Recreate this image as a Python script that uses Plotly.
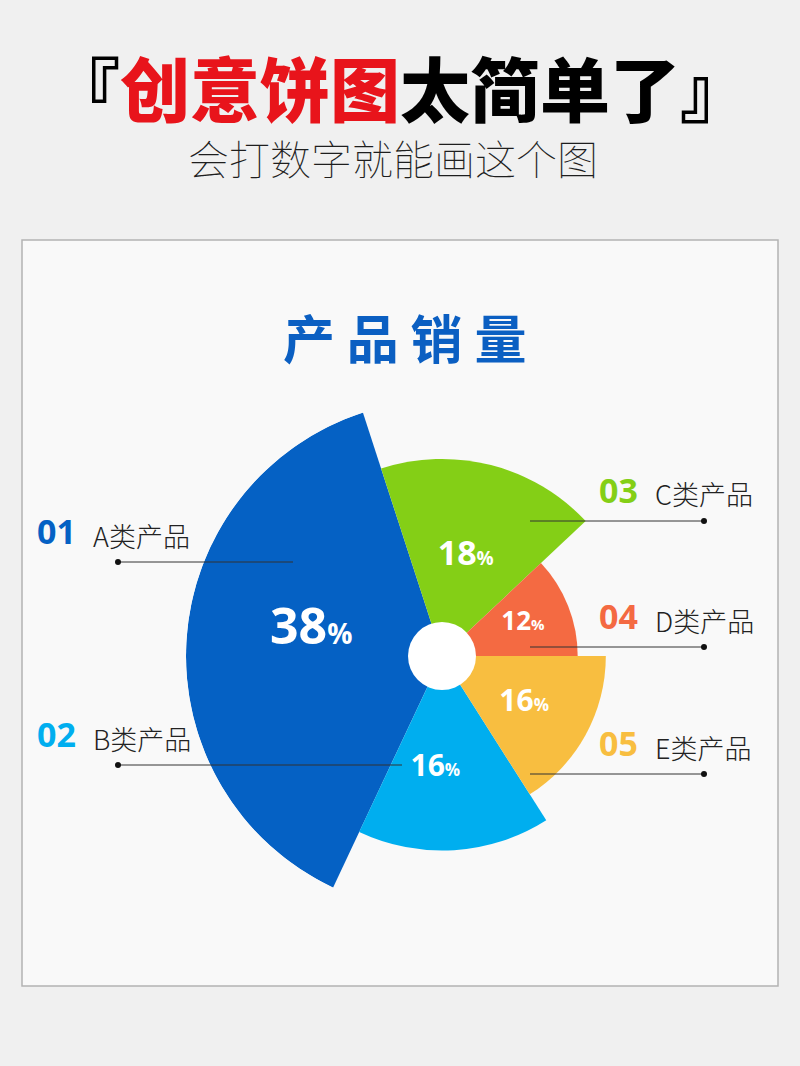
import plotly.graph_objects as go

# chart data
products = ["A类产品", "B类产品", "C类产品", "D类产品", "E类产品"]
codes = ["01", "02", "03", "04", "05"]
share = [38, 16, 18, 12, 16]          # percent, sets the angle of each slice
radius = [100, 76, 77, 53, 64]        # relative length of each slice
colors = ["#0561c4", "#00aeef", "#84cf16", "#f46a42", "#f8be40"]

# slices go clockwise starting with C
draw_order = [2, 3, 4, 1, 0]

W, H = 800, 1066


def px(x, y):
    # page pixels -> paper coords
    return x / W, 1 - y / H


def slice_angles():
    widths = [s * 3.6 for s in share]
    mids = [0] * len(share)
    start = 0
    for i in draw_order:
        mids[i] = start + widths[i] / 2
        start += widths[i]
    return mids, widths


def create_plot():
    fig = go.Figure()
    mids, widths = slice_angles()

    fig.add_trace(go.Barpolar(
        r=radius,
        theta=mids,
        width=widths,
        marker=dict(color=colors, line=dict(width=0)),
        hoverinfo="none",
    ))

    # percent labels inside the slices
    label_r = [52, 44, 40, 34, 37]
    label_nudge = [7, 7, -1, 0, 1]
    num_size = [50, 30, 34, 26, 30]
    texts = []
    for s, n in zip(share, num_size):
        texts.append(f"{s}<span style='font-size:{int(n * 0.58)}px'>%</span>")
    fig.add_trace(go.Scatterpolar(
        r=label_r,
        theta=[m + d for m, d in zip(mids, label_nudge)],
        mode="text",
        text=texts,
        textposition="middle center",
        textfont=dict(family="Open Sans", size=num_size, color="white", weight="bold"),
        hoverinfo="none",
    ))

    cx, cy, R = 442, 656, 256
    x0, y1 = px(cx - R, cy - R)
    x1, y0 = px(cx + R, cy + R)

    fig.update_layout(
        width=W, height=H,
        margin=dict(l=0, r=0, t=0, b=0),
        paper_bgcolor="#f0f0f0",
        showlegend=False,
        polar=dict(
            domain=dict(x=[x0, x1], y=[y0, y1]),
            bgcolor="rgba(0,0,0,0)",
            radialaxis=dict(visible=False, range=[0, 100]),
            angularaxis=dict(visible=False, direction="clockwise", rotation=108),
        ),
    )

    shapes = []
    # light panel behind the chart
    bx0, by1 = px(22, 240)
    bx1, by0 = px(778, 986)
    shapes.append(dict(type="rect", xref="paper", yref="paper", x0=bx0, x1=bx1, y0=by0, y1=by1,
                       fillcolor="#f9f9f9", line=dict(color="#b3b3b3", width=1.5), layer="below"))
    # white hole in the middle
    hx0, hy1 = px(cx - 34, cy - 34)
    hx1, hy0 = px(cx + 34, cy + 34)
    shapes.append(dict(type="circle", xref="paper", yref="paper", x0=hx0, x1=hx1, y0=hy0, y1=hy1,
                       fillcolor="white", line=dict(width=0)))

    # label rows: (code x, name x, row y, line start, line end, dot x)
    rows = [
        (35, 91, 531, 118, 293, 118),
        (35, 91, 734, 118, 402, 118),
        (597, 653, 490, 530, 704, 704),
        (597, 653, 616, 530, 704, 704),
        (597, 653, 743, 530, 704, 704),
    ]
    line_y = [562, 765, 521, 647, 774]

    annotations = []
    for i, (code_x, name_x, row_y, lx0, lx1, dot_x) in enumerate(rows):
        ax, ay = px(code_x, row_y)
        annotations.append(dict(x=ax, y=ay, xref="paper", yref="paper", xanchor="left", yanchor="middle",
                                text=codes[i], showarrow=False,
                                font=dict(family="Open Sans", size=34, color=colors[i], weight="bold")))
        ax, ay = px(name_x, row_y + 4)
        annotations.append(dict(x=ax, y=ay, xref="paper", yref="paper", xanchor="left", yanchor="middle",
                                text=products[i], showarrow=False,
                                font=dict(family="Noto Sans CJK SC", size=27, color="#222222", weight=200)))
        sx0, sy = px(lx0, line_y[i])
        sx1, _ = px(lx1, line_y[i])
        shapes.append(dict(type="line", xref="paper", yref="paper", x0=sx0, x1=sx1, y0=sy, y1=sy,
                           line=dict(color="#333333", width=1)))
        dx0, dy1 = px(dot_x - 3, line_y[i] - 3)
        dx1, dy0 = px(dot_x + 3, line_y[i] + 3)
        shapes.append(dict(type="circle", xref="paper", yref="paper", x0=dx0, x1=dx1, y0=dy0, y1=dy1,
                           fillcolor="#111111", line=dict(width=0)))

    # headings
    tx, ty = px(400, 87)
    annotations.append(dict(x=tx, y=ty, xref="paper", yref="paper", xanchor="center", yanchor="middle",
                            text="『<span style='color:#e8141b'>创意饼图</span>太简单了』", showarrow=False,
                            font=dict(family="Noto Sans CJK SC", size=70, color="#000000", weight=900)))
    tx, ty = px(393, 157)
    annotations.append(dict(x=tx, y=ty, xref="paper", yref="paper", xanchor="center", yanchor="middle",
                            text="会打数字就能画这个图", showarrow=False,
                            font=dict(family="Noto Sans CJK SC", size=41, color="#1e1e1e", weight=100)))
    tx, ty = px(404, 337)
    annotations.append(dict(x=tx, y=ty, xref="paper", yref="paper", xanchor="center", yanchor="middle",
                            text="产 品 销 量", showarrow=False,
                            font=dict(family="Noto Sans CJK SC", size=52, color="#0b5fc2", weight="bold")))

    fig.update_layout(shapes=shapes, annotations=annotations)
    # drop the default page margin so the figure sits at the window corner
    fig.write_html("out.html", config={"displayModeBar": False},
                   post_script="document.body.style.margin='0';")


if __name__ == "__main__":
    create_plot()
